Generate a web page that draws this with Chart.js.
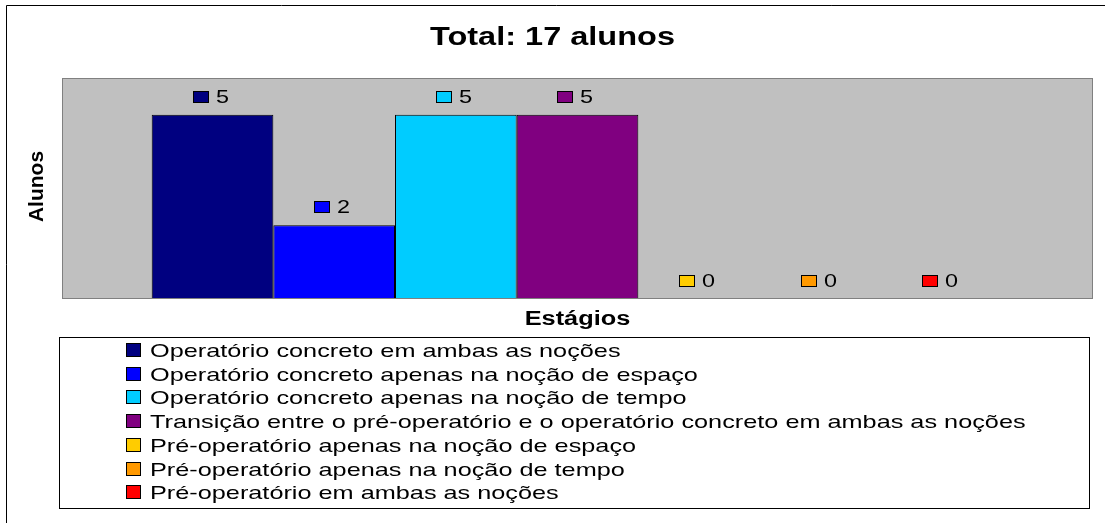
<!DOCTYPE html>
<html>
<head>
<meta charset="utf-8">
<script src="https://cdn.jsdelivr.net/npm/chart.js@4/dist/chart.umd.min.js"></script>
<style>
  html, body { margin: 0; padding: 0; background: #ffffff; }
  #wrap { width: 1105px; height: 523px; position: relative; }
</style>
</head>
<body>
<div id="wrap"><canvas id="c" width="1105" height="523"></canvas></div>
<script>
// ---- data ----
const categories = ['Estágios'];
const seriesLabels = [
  'Operatório concreto em ambas as noções',
  'Operatório concreto apenas na noção de espaço',
  'Operatório concreto apenas na noção de tempo',
  'Transição entre o pré-operatório e o operatório concreto em ambas as noções',
  'Pré-operatório apenas na noção de espaço',
  'Pré-operatório apenas na noção de tempo',
  'Pré-operatório em ambas as noções'
];
const seriesValues = [5, 2, 5, 5, 0, 0, 0];
const chartTitle = 'Total: 17 alunos';
const yTitle = 'Alunos';
const xTitle = 'Estágios';
const yMin = 0;
const yMax = 6;

// ---- styles ----
const seriesColors = ['#000080', '#0000FF', '#00CCFF', '#800080', '#FFCC00', '#FF9900', '#FF0000'];
const FONT = '"Liberation Sans", Arial, sans-serif';
const SX = 1.3; // horizontal stretch of the reference text

function stretchText(ctx, text, x, y, font, sx, align) {
  ctx.save();
  ctx.font = font;
  ctx.textBaseline = 'alphabetic';
  ctx.textAlign = align;
  ctx.fillStyle = '#000000';
  ctx.translate(x, y);
  ctx.scale(sx, 1);
  ctx.fillText(text, 0, 0);
  ctx.restore();
}

const decor = {
  id: 'decor',
  beforeDraw(chart) {
    const { ctx, chartArea: a } = chart;
    ctx.save();
    ctx.fillStyle = '#ffffff';
    ctx.fillRect(0, 0, chart.width, chart.height);
    // outer frame (cropped at right/bottom)
    ctx.strokeStyle = '#000000';
    ctx.lineWidth = 1;
    ctx.beginPath();
    ctx.moveTo(6.5, chart.height + 2);
    ctx.lineTo(6.5, 5.5);
    ctx.lineTo(chart.width + 2, 5.5);
    ctx.stroke();
    // plot area
    ctx.fillStyle = '#C0C0C0';
    ctx.fillRect(a.left, a.top, a.right - a.left, a.bottom - a.top);
    ctx.restore();
  },
  afterDatasetsDraw(chart) {
    const { ctx, chartArea: a } = chart;
    ctx.save();
    ctx.strokeStyle = '#808080';
    ctx.lineWidth = 1;
    ctx.strokeRect(a.left + 0.5, a.top + 0.5, a.right - a.left - 1, a.bottom - a.top - 1);
    // value labels with colour keys
    chart.data.datasets.forEach((ds, i) => {
      const meta = chart.getDatasetMeta(i);
      meta.data.forEach((bar, j) => {
        const val = String(ds.data[j]);
        const font = '18px ' + FONT;
        ctx.font = font;
        const tw = ctx.measureText(val).width * SX;
        const sq = 15, gap = 8;
        const total = sq + gap + tw;
        const left = Math.round(bar.x - 2 - total / 2);
        const base = Math.round(bar.y - 12);
        ctx.fillStyle = ds.backgroundColor;
        ctx.fillRect(left + 0.5, base - 11.5, sq, 11);
        ctx.strokeStyle = '#000000';
        ctx.strokeRect(left + 0.5, base - 11.5, sq, 11);
        stretchText(ctx, val, left + sq + gap, base, font, SX, 'left');
      });
    });
    ctx.restore();
  },
  afterDraw(chart) {
    const { ctx, chartArea: a } = chart;
    ctx.save();
    // title
    stretchText(ctx, chartTitle, chart.width / 2, 45, 'bold 25px ' + FONT, SX, 'center');
    // x title
    stretchText(ctx, xTitle, (a.left + a.right) / 2, 325, 'bold 19.5px ' + FONT, SX, 'center');
    // y title
    ctx.save();
    ctx.translate(43, (a.top + a.bottom) / 2 - 2);
    ctx.rotate(-Math.PI / 2);
    ctx.font = 'bold 21px ' + FONT;
    ctx.textAlign = 'center';
    ctx.textBaseline = 'alphabetic';
    ctx.fillStyle = '#000000';
    ctx.fillText(yTitle, 0, 0);
    ctx.restore();
    // legend box
    ctx.strokeStyle = '#000000';
    ctx.lineWidth = 1;
    ctx.strokeRect(59.5, 337.5, 1030, 171);
    chart.data.datasets.forEach((ds, i) => {
      const base = Math.round(357 + i * 23.7);
      ctx.fillStyle = ds.backgroundColor;
      ctx.fillRect(126.5, base - 13.5, 14, 13);
      ctx.strokeStyle = '#000000';
      ctx.strokeRect(126.5, base - 13.5, 14, 13);
      stretchText(ctx, ds.label, 150, base, '19px ' + FONT, 1.33, 'left');
    });
    ctx.restore();
  }
};

new Chart(document.getElementById('c'), {
  type: 'bar',
  data: {
    labels: categories,
    datasets: seriesLabels.map((lab, i) => ({
      label: lab,
      data: [seriesValues[i]],
      backgroundColor: seriesColors[i],
      borderColor: '#000000',
      borderWidth: 1
    }))
  },
  options: {
    responsive: false,
    animation: false,
    devicePixelRatio: 1,
    layout: { padding: { left: 62, top: 78, right: 12, bottom: 224 } },
    categoryPercentage: 0.826,
    barPercentage: 1.0,
    plugins: {
      legend: { display: false },
      title: { display: false },
      tooltip: { enabled: false }
    },
    scales: {
      x: { display: false },
      y: { display: false, min: yMin, max: yMax }
    }
  },
  plugins: [decor]
});
</script>
</body>
</html>
